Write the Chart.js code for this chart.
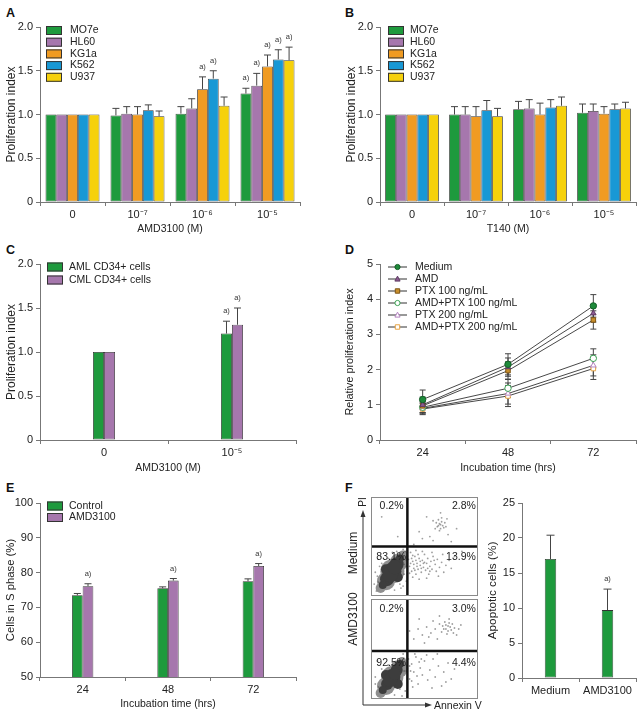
<!DOCTYPE html>
<html><head><meta charset="utf-8">
<script src="https://cdn.jsdelivr.net/npm/chart.js@4"></script>
<style>
body{margin:0;width:639px;height:715px;position:relative;background:#fff;overflow:hidden;font-family:"Liberation Sans",Arial,Helvetica,sans-serif}
.box{position:absolute}
.tl{position:absolute;font-weight:bold;font-size:12.5px;line-height:12px;color:#111}
svg{position:absolute;left:0;top:0}
</style></head><body>
<div class="tl" style="left:6px;top:7px">A</div>
<div class="tl" style="left:345px;top:7px">B</div>
<div class="tl" style="left:6px;top:244px">C</div>
<div class="tl" style="left:345px;top:244px">D</div>
<div class="tl" style="left:6px;top:482px">E</div>
<div class="tl" style="left:345px;top:482px">F</div>
<div class="box" style="left:0;top:0;width:320px;height:240px"><canvas id="cA"></canvas></div>
<div class="box" style="left:320px;top:0;width:319px;height:240px"><canvas id="cB"></canvas></div>
<div class="box" style="left:0;top:240px;width:320px;height:240px"><canvas id="cC"></canvas></div>
<div class="box" style="left:320px;top:240px;width:319px;height:240px"><canvas id="cD"></canvas></div>
<div class="box" style="left:0;top:480px;width:320px;height:235px"><canvas id="cE"></canvas></div>
<div class="box" style="left:480px;top:480px;width:159px;height:235px"><canvas id="cF"></canvas></div>
<div class="box" style="left:371px;top:497px;width:107px;height:99px"><canvas id="cF1"></canvas></div>
<div class="box" style="left:371px;top:599px;width:107px;height:100px"><canvas id="cF2"></canvas></div>
<svg width="639" height="715">
  <line x1="363" y1="705" x2="363" y2="515" stroke="#333" stroke-width="1"/>
  <polygon points="363,510 360.5,517 365.5,517" fill="#333"/>
  <line x1="363" y1="705" x2="427" y2="705" stroke="#333" stroke-width="1"/>
  <polygon points="432,705 425,702.5 425,707.5" fill="#333"/>
  <text x="434" y="709" font-size="10.5" fill="#222" font-family="Liberation Sans, Arial, sans-serif">Annexin V</text>
  <text transform="translate(366,502) rotate(-90)" text-anchor="middle" font-size="10" fill="#222" font-family="Liberation Sans, Arial, sans-serif">PI</text>
  <text transform="translate(357,553) rotate(-90)" text-anchor="middle" font-size="12" fill="#222" font-family="Liberation Sans, Arial, sans-serif">Medium</text>
  <text transform="translate(357,619) rotate(-90)" text-anchor="middle" font-size="12" fill="#222" font-family="Liberation Sans, Arial, sans-serif">AMD3100</text>
</svg>
<script>
// ---------------- DATA ----------------
const doseCats = ['0', '10⁻⁷', '10⁻⁶', '10⁻⁵'];
const cellLines = ['MO7e', 'HL60', 'KG1a', 'K562', 'U937'];
// Panel A (AMD3100)
const aMO7e = [1.00, 0.99, 1.01, 1.24], aMO7eErr = [0, 0.08, 0.08, 0.06], aMO7eSig = [0, 0, 0, 1];
const aHL60 = [1.00, 1.01, 1.07, 1.33], aHL60Err = [0, 0.08, 0.11, 0.14], aHL60Sig = [0, 0, 0, 1];
const aKG1a = [1.00, 1.00, 1.29, 1.55], aKG1aErr = [0, 0.09, 0.14, 0.13], aKG1aSig = [0, 0, 1, 1];
const aK562 = [1.00, 1.05, 1.41, 1.63], aK562Err = [0, 0.06, 0.09, 0.11], aK562Sig = [0, 0, 1, 1];
const aU937 = [1.00, 0.98, 1.10, 1.62], aU937Err = [0, 0.06, 0.10, 0.15], aU937Sig = [0, 0, 0, 1];
// Panel B (T140)
const bMO7e = [1.00, 1.00, 1.06, 1.02], bMO7eErr = [0, 0.09, 0.09, 0.10];
const bHL60 = [1.00, 1.00, 1.07, 1.04], bHL60Err = [0, 0.09, 0.10, 0.08];
const bKG1a = [1.00, 0.98, 1.00, 1.01], bKG1aErr = [0, 0.11, 0.13, 0.08];
const bK562 = [1.00, 1.05, 1.08, 1.06], bK562Err = [0, 0.11, 0.09, 0.06];
const bU937 = [1.00, 0.98, 1.10, 1.07], bU937Err = [0, 0.09, 0.10, 0.07];
// Panel C
const cCats = ['0', '10⁻⁵'];
const cAML = [1.00, 1.21], cAMLErr = [0, 0.14], cAMLSig = [0, 1];
const cCML = [1.00, 1.31], cCMLErr = [0, 0.19], cCMLSig = [0, 1];
// Panel D
const timeCats = ['24', '48', '72'];
const dMedium = [1.15, 2.15, 3.81], dMediumErr = [0.27, 0.30, 0.32];
const dAMD = [1.00, 2.07, 3.60], dAMDErr = [0.22, 0.26, 0.25];
const dPTX100 = [0.97, 1.97, 3.41], dPTX100Err = [0.20, 0.25, 0.26];
const dAMDPTX100 = [0.93, 1.47, 2.32], dAMDPTX100Err = [0.16, 0.26, 0.27];
const dPTX200 = [0.90, 1.32, 2.12], dPTX200Err = [0.16, 0.30, 0.30];
const dAMDPTX200 = [0.88, 1.25, 2.03], dAMDPTX200Err = [0.16, 0.30, 0.31];
// Panel E
const eControl = [73.5, 75.5, 77.5], eControlErr = [0.5, 0.4, 0.7];
const eAMD = [76.1, 77.7, 81.9], eAMDErr = [0.7, 0.6, 0.7], eAMDSig = [1, 1, 1];
// Panel F (bar)
const fCats = ['Medium', 'AMD3100'];
const fApoptotic = [17.0, 9.7], fApoptoticErr = [3.4, 3.0], fApoptoticSig = [0, 1];
// Panel F (flow quadrant percentages: UL, UR, LL, LR)
const flowMediumPct = ['0.2%', '2.8%', '83.1%', '13.9%'];
const flowAMDPct = ['0.2%', '3.0%', '92.5%', '4.4%'];
const gateX = 34, gateYMedium = 50, gateYAMD = 48;
// hand-placed flow events (Annexin V, PI) in 0-100 units; dense core as [x, y, r]
const flowMediumCore = [[20,25,9],[15,17,7],[24,32,7],[11,11,4],[27,38,4],[14,27,5],[25,19,5],[18,22,8],[22,29,7]];
const flowMediumHalo = [[20,25,12],[14,15,9],[26,34,9],[30,41,5],[9,8,5]];
const flowMediumDots = [[36,30],[38,25],[39,35],[40,28],[41,40],[42,22],[43,33],[44,27],[45,38],[46,31],[47,24],[48,36],[49,29],[50,42],[51,26],[52,33],[53,38],[54,22],[55,30],[56,35],[57,27],[58,40],[60,32],[61,25],[62,37],[64,29],[66,34],[68,24],[70,31],[73,36],[37,44],[39,19],[42,46],[45,17],[48,45],[52,18],[57,44],[63,20],[67,42],[75,28],[35,37],[37,33],[40,32],[43,30],[46,35],[50,34],[53,28],[38,38],[41,26],[44,42],[36,23],[39,41],[42,36],[47,28],[49,33],[55,25],[59,36],[5,5],[8,30],[30,10],[33,30],[32,45],[6,20],[28,8],[31,22],[9,40],[24,45],[33,15],[3,12],[20,44],[34,40],[30,47],[62,70],[64,73],[65,68],[66,75],[63,77],[67,71],[61,74],[68,69],[64,66],[66,79],[60,68],[69,74],[63,71],[65,72],[58,76],[70,70],[55,60],[48,58],[72,62],[52,80],[45,65],[75,55],[40,52],[58,56],[80,68],[10,80],[25,60],[65,84],[71,78],[85,45],[78,40],[7,14],[10,33],[27,12],[31,32],[16,38],[4,24],[22,6],[33,36]];
const flowAMDCore = [[20,22,8],[15,15,6],[24,29,6],[11,9,4],[27,35,4],[14,24,5],[25,15,5],[18,19,7],[22,25,6]];
const flowAMDHalo = [[20,22,11],[14,13,9],[26,30,9],[9,6,5],[29,38,4]];
const flowAMDDots = [[36,20],[38,35],[40,27],[42,42],[44,15],[46,31],[48,24],[50,38],[53,19],[55,29],[58,40],[60,22],[63,33],[66,13],[68,27],[72,36],[75,20],[78,30],[37,28],[39,12],[41,45],[45,37],[52,44],[57,11],[62,45],[70,17],[35,40],[43,23],[36,33],[38,18],[47,40],[30,45],[32,8],[6,38],[33,28],[4,15],[29,3],[68,70],[70,74],[72,68],[74,72],[69,77],[71,65],[73,76],[75,69],[67,73],[76,75],[66,67],[78,71],[70,70],[72,73],[64,75],[60,70],[56,66],[52,72],[48,64],[44,70],[40,60],[58,78],[62,60],[80,64],[84,74],[50,56],[45,80],[54,62],[36,68],[64,83],[77,66],[73,80],[82,70],[7,12],[10,30],[27,10],[31,28],[16,34],[4,22],[22,4]];

// ---------------- STYLE ----------------
const FONT = '"Liberation Sans", Arial, Helvetica, sans-serif';
const palette = {MO7e:'#1e9a3d', HL60:'#a677ad', KG1a:'#f09b22', K562:'#1898d5', U937:'#f6d10b'};
Chart.defaults.animation = false;
Chart.defaults.font.family = FONT;
Chart.defaults.font.size = 11;
Chart.defaults.color = '#222';
Chart.defaults.plugins.legend.display = false;
Chart.defaults.plugins.tooltip.enabled = false;

function drawMarker(ctx, style, x, y, r, fill, stroke){
  ctx.save(); ctx.fillStyle = fill; ctx.strokeStyle = stroke; ctx.lineWidth = 1;
  ctx.beginPath();
  if (style === 'circle') ctx.arc(x, y, r, 0, Math.PI*2);
  else if (style === 'triangle') { ctx.moveTo(x, y-r*1.1); ctx.lineTo(x+r, y+r*0.8); ctx.lineTo(x-r, y+r*0.8); ctx.closePath(); }
  else ctx.rect(x-r*0.85, y-r*0.85, r*1.7, r*1.7);
  ctx.fill(); ctx.stroke(); ctx.restore();
}

const errPlugin = {
  id: 'errBars',
  draw(chart, both){
    const ctx = chart.ctx, ys = chart.scales.y;
    chart.data.datasets.forEach((ds, i) => {
      if (!ds.err || !!ds.errBoth !== both) return;
      const meta = chart.getDatasetMeta(i);
      meta.data.forEach((el, j) => {
        const e = ds.err[j]; if (!e) return;
        const v = ds.data[j];
        const yT = ys.getPixelForValue(v + e);
        const yB = both ? ys.getPixelForValue(v - e) : el.y;
        const cw = ds.capW || 7;
        ctx.save(); ctx.strokeStyle = '#444'; ctx.lineWidth = 1;
        ctx.beginPath();
        ctx.moveTo(el.x, yB); ctx.lineTo(el.x, yT);
        ctx.moveTo(el.x - cw/2, yT); ctx.lineTo(el.x + cw/2, yT);
        if (both) { ctx.moveTo(el.x - cw/2, yB); ctx.lineTo(el.x + cw/2, yB); }
        ctx.stroke();
        if (ds.sig && ds.sig[j]) {
          ctx.fillStyle = '#333'; ctx.font = '7.5px ' + FONT; ctx.textAlign = 'center'; ctx.textBaseline = 'middle';
          ctx.fillText('a)', el.x, yT - 10);
        }
        ctx.restore();
      });
    });
  },
  beforeDatasetsDraw(chart){ this.draw(chart, true); },
  afterDatasetsDraw(chart){ this.draw(chart, false); }
};

const legPlugin = {
  id: 'leg',
  afterDraw(chart, args, o){
    if (!o || !o.kind) return;
    const ctx = chart.ctx; ctx.save();
    ctx.font = (o.fs || 10.5) + 'px ' + FONT; ctx.textBaseline = 'middle'; ctx.textAlign = 'left';
    chart.data.datasets.forEach((ds, i) => {
      const y = o.y + i * o.dy;
      if (o.kind === 'line') {
        ctx.strokeStyle = '#333'; ctx.lineWidth = 1;
        ctx.beginPath(); ctx.moveTo(o.x, y); ctx.lineTo(o.x + 19, y); ctx.stroke();
        drawMarker(ctx, ds.pointStyle, o.x + 9.5, y, 2.6, ds.pointBackgroundColor, ds.pointBorderColor);
      } else {
        ctx.fillStyle = ds.backgroundColor; ctx.fillRect(o.x, y - 4.5, 16, 9);
        ctx.strokeStyle = '#333'; ctx.lineWidth = 1; ctx.strokeRect(o.x + 0.5, y - 4, 15, 8);
      }
      ctx.fillStyle = '#222'; ctx.fillText(ds.label, o.x + o.tx, y);
    });
    ctx.restore();
  }
};

const flowPlugin = {
  id: 'flow',
  afterDraw(chart, args, o){
    if (!o || !o.labels) return;
    const ctx = chart.ctx, a = chart.chartArea; ctx.save();
    ctx.strokeStyle = '#8a8a8a'; ctx.lineWidth = 1;
    ctx.strokeRect(a.left + 0.5, a.top + 0.5, a.right - a.left - 1, a.bottom - a.top - 1);
    ctx.font = '10.5px ' + FONT; ctx.fillStyle = '#222'; ctx.textBaseline = 'middle';
    o.labels.forEach(l => {
      ctx.textAlign = l.align;
      ctx.fillText(l.text, chart.scales.x.getPixelForValue(l.x), chart.scales.y.getPixelForValue(l.y));
    });
    ctx.restore();
  }
};
Chart.register(errPlugin, legPlugin, flowPlugin);

const gridStyle = {display: true, drawOnChartArea: false, drawTicks: true, tickLength: 4, color: '#777'};
function yAxis(c){
  return {
    min: c.min, max: c.max,
    ticks: {stepSize: c.step, font: {size: 11}, color: '#222', padding: 3, callback: c.fmt},
    grid: gridStyle, border: {display: true, color: '#777'},
    title: {display: true, text: c.yTitle, font: {size: c.yTitleSize || 11}, color: '#222', padding: {top: 4, bottom: 0}},
    afterFit: s => { s.width = c.yW; }
  };
}
function xAxis(c){
  return {
    type: 'category', offset: true,
    grid: Object.assign({}, gridStyle, {offset: true}), border: {display: true, color: '#777'},
    ticks: {font: {size: 11}, color: '#222', padding: 2, maxRotation: 0, autoSkip: false},
    title: {display: !!c.xTitle, text: c.xTitle || '', font: {size: c.xTitleSize || 10.5}, color: '#222', padding: {top: 0, bottom: 4}},
    afterFit: s => { s.height = c.xH; }
  };
}
function makeBar(id, cats, series, c){
  return new Chart(document.getElementById(id), {
    type: 'bar',
    data: {labels: cats, datasets: series.map(s => ({
      label: s.label, data: s.data, err: s.err, sig: s.sig, capW: c.capW || 7,
      backgroundColor: s.color, borderColor: '#333', borderWidth: 0.8, borderSkipped: false,
      categoryPercentage: c.catPct, barPercentage: 1
    }))},
    options: {
      responsive: true, maintainAspectRatio: false,
      layout: {padding: c.pad},
      scales: {x: xAxis(c), y: yAxis(c)},
      plugins: {leg: c.legend || {}}
    }
  });
}
const fmt1 = v => v === 0 ? '0' : v.toFixed(1);
const fmt0 = v => String(v);

// Panel A
makeBar('cA', doseCats, [
  {label: cellLines[0], data: aMO7e, err: aMO7eErr, sig: aMO7eSig, color: palette.MO7e},
  {label: cellLines[1], data: aHL60, err: aHL60Err, sig: aHL60Sig, color: palette.HL60},
  {label: cellLines[2], data: aKG1a, err: aKG1aErr, sig: aKG1aSig, color: palette.KG1a},
  {label: cellLines[3], data: aK562, err: aK562Err, sig: aK562Sig, color: palette.K562},
  {label: cellLines[4], data: aU937, err: aU937Err, sig: aU937Sig, color: palette.U937}
], {min: 0, max: 2, step: 0.5, fmt: fmt1, yTitle: 'Proliferation index', yTitleSize: 12, xTitle: 'AMD3100 (M)',
    yW: 40, xH: 37, pad: {left: 0, top: 27, right: 20, bottom: 1}, catPct: 0.83,
    legend: {kind: 'box', x: 46, y: 30.5, dy: 11.7, tx: 24}});

// Panel B
makeBar('cB', doseCats, [
  {label: cellLines[0], data: bMO7e, err: bMO7eErr, color: palette.MO7e},
  {label: cellLines[1], data: bHL60, err: bHL60Err, color: palette.HL60},
  {label: cellLines[2], data: bKG1a, err: bKG1aErr, color: palette.KG1a},
  {label: cellLines[3], data: bK562, err: bK562Err, color: palette.K562},
  {label: cellLines[4], data: bU937, err: bU937Err, color: palette.U937}
], {min: 0, max: 2, step: 0.5, fmt: fmt1, yTitle: 'Proliferation index', yTitleSize: 12, xTitle: 'T140 (M)',
    yW: 40, xH: 37, pad: {left: 20, top: 27, right: 3, bottom: 1}, catPct: 0.84,
    legend: {kind: 'box', x: 68, y: 30.5, dy: 11.7, tx: 22}});

// Panel C
makeBar('cC', cCats, [
  {label: 'AML CD34+ cells', data: cAML, err: cAMLErr, sig: cAMLSig, color: palette.MO7e},
  {label: 'CML CD34+ cells', data: cCML, err: cCMLErr, sig: cCMLSig, color: palette.HL60}
], {min: 0, max: 2, step: 0.5, fmt: fmt1, yTitle: 'Proliferation index', yTitleSize: 12, xTitle: 'AMD3100 (M)',
    yW: 40, xH: 38, pad: {left: 0, top: 24, right: 24, bottom: 2}, catPct: 0.172,
    legend: {kind: 'box', x: 47, y: 27, dy: 13, tx: 22}});

// Panel D
new Chart(document.getElementById('cD'), {
  type: 'line',
  data: {labels: timeCats, datasets: [
    {label: 'Medium', data: dMedium, err: dMediumErr, pointStyle: 'circle', pointBackgroundColor: '#1e8a3a', pointBorderColor: '#145f27'},
    {label: 'AMD', data: dAMD, err: dAMDErr, pointStyle: 'triangle', pointBackgroundColor: '#8c5b92', pointBorderColor: '#5e3a63'},
    {label: 'PTX 100 ng/mL', data: dPTX100, err: dPTX100Err, pointStyle: 'rect', pointBackgroundColor: '#c98f2c', pointBorderColor: '#7d5516'},
    {label: 'AMD+PTX 100 ng/mL', data: dAMDPTX100, err: dAMDPTX100Err, pointStyle: 'circle', pointBackgroundColor: '#ffffff', pointBorderColor: '#3aa152'},
    {label: 'PTX 200 ng/mL', data: dPTX200, err: dPTX200Err, pointStyle: 'triangle', pointBackgroundColor: '#ffffff', pointBorderColor: '#b583c2'},
    {label: 'AMD+PTX 200 ng/mL', data: dAMDPTX200, err: dAMDPTX200Err, pointStyle: 'rect', pointBackgroundColor: '#ffffff', pointBorderColor: '#e7a444'}
  ].map(d => Object.assign(d, {errBoth: true, capW: 6, borderColor: '#333', borderWidth: 0.9, pointRadius: 3.2, pointBorderWidth: 1}))},
  options: {
    responsive: true, maintainAspectRatio: false,
    layout: {padding: {left: 20, top: 24, right: 3, bottom: 2}, autoPadding: false},
    scales: {
      x: xAxis({xTitle: 'Incubation time (hrs)', xH: 38}),
      y: yAxis({min: 0, max: 5, step: 1, fmt: fmt0, yTitle: 'Relative proliferation index', yTitleSize: 10.8, yW: 40})
    },
    plugins: {leg: {kind: 'line', x: 68, y: 27, dy: 12, tx: 27}}
  }
});

// Panel E
makeBar('cE', timeCats, [
  {label: 'Control', data: eControl, err: eControlErr, color: palette.MO7e},
  {label: 'AMD3100', data: eAMD, err: eAMDErr, sig: eAMDSig, color: palette.HL60}
], {min: 50, max: 100, step: 10, fmt: fmt0, yTitle: 'Cells in S phase (%)', yTitleSize: 11.3, xTitle: 'Incubation time (hrs)',
    yW: 40, xH: 37, pad: {left: 0, top: 23, right: 24, bottom: 1}, catPct: 0.25,
    legend: {kind: 'box', x: 47, y: 26, dy: 11.5, tx: 22}});

// Panel F bar
makeBar('cF', fCats, [
  {label: 'Apoptotic', data: fApoptotic, err: fApoptoticErr, sig: fApoptoticSig, color: palette.MO7e}
], {min: 0, max: 25, step: 5, fmt: fmt0, yTitle: 'Apoptotic cells (%)', yTitleSize: 11.8, xTitle: '',
    yW: 40, xH: 37, pad: {left: 2, top: 23, right: 3, bottom: 0}, catPct: 0.2, capW: 8});

// Panel F flow plots
function makeFlow(id, core, halo, dots, gateY, pct, lowY, upY){
  const pts = a => a.map(p => ({x: p[0], y: p[1]}));
  new Chart(document.getElementById(id), {
    type: 'scatter',
    data: {datasets: [
      {type: 'line', data: [{x: gateX, y: 0}, {x: gateX, y: 100}], borderColor: '#111', borderWidth: 2.5, pointRadius: 0, order: 0},
      {type: 'line', data: [{x: 0, y: gateY}, {x: 100, y: gateY}], borderColor: '#111', borderWidth: 2.5, pointRadius: 0, order: 0},
      {data: pts(dots), pointRadius: 0.9, backgroundColor: 'rgba(80,80,80,0.55)', borderWidth: 0, order: 1},
      {type: 'bubble', data: core.map(p => ({x: p[0], y: p[1], r: p[2]})), backgroundColor: '#3d3d3d', borderWidth: 0, order: 2},
      {type: 'bubble', data: halo.map(p => ({x: p[0], y: p[1], r: p[2]})), backgroundColor: '#8f8f8f', borderWidth: 0, order: 3}
    ]},
    options: {
      responsive: true, maintainAspectRatio: false, layout: {padding: 0, autoPadding: false},
      scales: {x: {type: 'linear', min: 0, max: 100, display: false}, y: {type: 'linear', min: 0, max: 100, display: false}},
      plugins: {flow: {labels: [
        {text: pct[0], x: 8, y: upY, align: 'left'},
        {text: pct[1], x: 98, y: upY, align: 'right'},
        {text: pct[2], x: 5, y: lowY, align: 'left'},
        {text: pct[3], x: 98, y: lowY, align: 'right'}
      ]}}
    }
  });
}
makeFlow('cF1', flowMediumCore, flowMediumHalo, flowMediumDots, gateYMedium, flowMediumPct, 39, 91);
makeFlow('cF2', flowAMDCore, flowAMDHalo, flowAMDDots, gateYAMD, flowAMDPct, 36, 90);
</script>
</body></html>
